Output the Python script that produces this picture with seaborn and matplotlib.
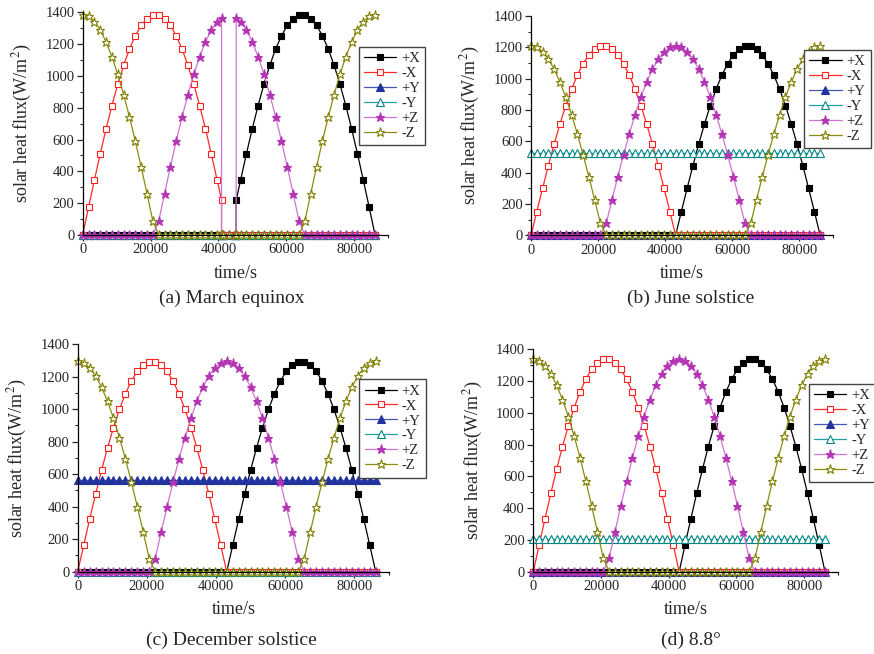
import matplotlib
matplotlib.use("Agg")
import matplotlib.pyplot as plt
from matplotlib.ticker import MultipleLocator
import seaborn as sns

sns.set_style("ticks")
plt.rcParams['font.family'] = ['Liberation Serif', 'DejaVu Serif']
plt.rcParams['mathtext.fontset'] = 'stix'

# sample times over one orbit (s)
time_s = [0, 1723, 3447, 5170, 6893, 8616, 10340, 12063, 13786, 15510, 17233,
          18956, 20679, 22403, 24126, 25849, 27572, 29296, 31019, 32742, 34466,
          36189, 37912, 39635, 41359, 43082, 44805, 46528, 48252, 49975, 51698,
          53422, 55145, 56868, 58591, 60315, 62038, 63761, 65485, 67208, 68931,
          70654, 72378, 74101, 75824, 77548, 79271, 80994, 82717, 84441, 86164]

# (a) March equinox, with the eclipse around 41000-45000 s
mar_time = [0, 1723, 3447, 5170, 6893, 8616, 10340, 12063, 13786, 15510, 17233,
            18956, 20679, 22403, 24126, 25849, 27572, 29296, 31019, 32742, 34466,
            36189, 37912, 39635, 40922, 40923, 41359, 43082, 44805, 45241, 45242,
            46528, 48252, 49975, 51698, 53422, 55145, 56868, 58591, 60315, 62038,
            63761, 65485, 67208, 68931, 70654, 72378, 74101, 75824, 77548, 79271,
            80994, 82717, 84441, 86164]
mar_px = [0]*24 + [0, 0, 0, 0, 0, 0, 220] + [344, 510, 667, 814, 948, 1067, 1169, 1253,
          1317, 1360, 1382, 1382, 1360, 1317, 1253, 1169, 1067, 948, 814, 667, 510, 344, 174, 0]
mar_mx = [0, 174, 344, 510, 667, 814, 948, 1067, 1169, 1253, 1317, 1360, 1382, 1382,
          1360, 1317, 1253, 1169, 1067, 948, 814, 667, 510, 344] + [220, 0, 0, 0, 0, 0, 0] + [0]*24
mar_py = [0]*55
mar_my = [0]*55
mar_pz = [0]*13 + [87, 260, 428, 590, 742, 883, 1010, 1120, 1214, 1288, 1342] + \
         [1363, 0, 0, 0, 0, 0, 1363] + \
         [1342, 1288, 1214, 1120, 1010, 883, 742, 590, 428, 260, 87] + [0]*13
mar_mz = [1385, 1374, 1342, 1288, 1214, 1120, 1010, 883, 742, 590, 428, 260, 87] + [0]*29 + \
         [87, 260, 428, 590, 742, 883, 1010, 1120, 1214, 1288, 1342, 1374, 1385]

# (b) June solstice
jun_half = [0, 152, 301, 445, 583, 711, 828, 932, 1022, 1095, 1151, 1189, 1208,
            1208, 1189, 1151, 1095, 1022, 932, 828, 711, 583, 445, 301, 152, 0]
jun_edge = [1210, 1200, 1172, 1125, 1060, 979, 882, 771, 648, 515, 374, 227, 76]
jun_py = [0]*51
jun_my = [525]*51

# (c) December solstice
dec_half = [0, 162, 322, 477, 624, 761, 886, 998, 1093, 1172, 1232, 1272, 1292,
            1292, 1272, 1232, 1172, 1093, 998, 886, 761, 624, 477, 322, 162, 0]
dec_edge = [1295, 1285, 1254, 1204, 1135, 1048, 944, 825, 694, 551, 400, 243, 81]
dec_py = [563]*51
dec_my = [0]*51

# (d) 8.8 deg
ang_half = [0, 168, 333, 493, 646, 788, 917, 1032, 1131, 1212, 1274, 1316, 1337,
            1337, 1316, 1274, 1212, 1131, 1032, 917, 788, 646, 493, 333, 168, 0]
ang_edge = [1340, 1329, 1298, 1246, 1174, 1084, 977, 854, 718, 571, 414, 251, 84]
ang_py = [0]*51
ang_my = [208]*51


def faces(half, edge, py, my):
    px = [0]*25 + half
    mx = half + [0]*25
    pz = [0]*13 + edge[::-1] + edge[1:] + [0]*13
    mz = edge + [0]*25 + edge[::-1]
    return [px, mx, py, my, pz, mz]


labels = ['+X', '-X', '+Y', '-Y', '+Z', '-Z']
line_colors = ['#000000', '#ff2a2a', '#4455b5', '#20a0a0', '#d272d2', '#8c8c10']
mark_colors = ['#000000', '#ff2020', '#2233a0', '#008585', '#b435b4', '#808000']
mark_faces = ['#000000', 'white', '#2233a0', 'white', '#b435b4', 'white']
markers = ['s', 's', '^', '^', '*', '*']
msizes = [4.8, 4.8, 5.2, 5.2, 6.8, 6.8]

panels = [
    (mar_time, [mar_px, mar_mx, mar_py, mar_my, mar_pz, mar_mz], [0.0946, 0.6407, 0.3494, 0.3405], '(a) March equinox', 0.265, 0.530),
    (time_s, faces(jun_half, jun_edge, jun_py, jun_my), [0.6076, 0.6402, 0.3455, 0.3353], '(b) June solstice', 0.79, 0.530),
    (time_s, faces(dec_half, dec_edge, dec_py, dec_my), [0.0889, 0.1258, 0.3562, 0.3482], '(c) December solstice', 0.265, 0.008),
    (time_s, faces(ang_half, ang_edge, ang_py, ang_my), [0.6102, 0.1258, 0.3486, 0.3401], '(d) 8.8°', 0.79, 0.008),
]

fig = plt.figure(figsize=(8.74, 6.54), dpi=100)

for t, series, pos, caption, cx, cy in panels:
    ax = fig.add_axes(pos)
    for i in range(6):
        sns.lineplot(x=t, y=series[i], ax=ax, color=line_colors[i], linewidth=0.9,
                     marker=markers[i], markersize=msizes[i],
                     markerfacecolor=mark_faces[i], markeredgecolor=mark_colors[i],
                     markeredgewidth=0.8, label=labels[i], clip_on=False,
                     estimator=None, sort=False)
    ax.set_xlim(0, 90000)
    ax.set_ylim(0, 1400)
    ax.xaxis.set_major_locator(MultipleLocator(20000))
    ax.xaxis.set_minor_locator(MultipleLocator(10000))
    ax.yaxis.set_major_locator(MultipleLocator(200))
    ax.yaxis.set_minor_locator(MultipleLocator(100))
    ax.set_xticks([0, 20000, 40000, 60000, 80000])
    ax.tick_params(which='major', direction='out', length=4, width=0.9, labelsize=10.5, pad=2)
    ax.tick_params(which='minor', direction='out', length=2.5, width=0.8)
    sns.despine(ax=ax)
    for s in ['left', 'bottom']:
        ax.spines[s].set_linewidth(0.9)
        ax.spines[s].set_color('black')
    ax.set_xlabel('time/s', fontsize=13, labelpad=6)
    ax.set_ylabel('solar heat flux(W/m$^2$)', fontsize=13, labelpad=8)
    leg = ax.legend(loc='upper left', bbox_to_anchor=(0.905, 0.845), fontsize=10.5,
                    frameon=True, fancybox=False, framealpha=1, edgecolor='#444444',
                    handlelength=2.2, handletextpad=0.35, labelspacing=0.12,
                    borderpad=0.35, borderaxespad=0)
    leg.get_frame().set_linewidth(1.0)
    fig.text(cx, cy, caption, ha='center', va='bottom', fontsize=14)

fig.savefig('out.png', dpi=100)
